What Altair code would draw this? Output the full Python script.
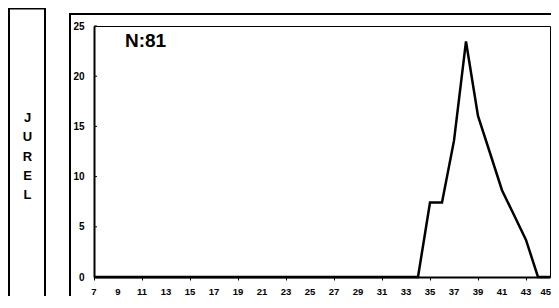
import altair as alt
import pandas as pd

# Data
sizes = list(range(7, 46))
pct_nonzero = {35: 7.41, 36: 7.41, 37: 13.58, 38: 23.46, 39: 16.05,
               40: 12.35, 41: 8.64, 42: 6.17, 43: 3.70}
pct = [pct_nonzero.get(s, 0.0) for s in sizes]
y_ticks = [0, 5, 10, 15, 20, 25]
x_labels = list(range(7, 44, 2))
last_label = [45]
species = "J\nU\nR\nE\nL"
n_label = "N:81"

FONT = "Liberation Sans"
W, H = 456, 251

df = pd.DataFrame({"talla": sizes, "pct": pct})
xs = alt.Scale(domain=[7, 45], nice=False, zero=False)
ys = alt.Scale(domain=[0, 25], nice=False)

line = alt.Chart(df).mark_line(color="black", strokeWidth=2.5).encode(
    x=alt.X("talla:Q", scale=xs,
            axis=alt.Axis(values=sizes, title=None, labels=False)),
    y=alt.Y("pct:Q", scale=ys, axis=alt.Axis(values=y_ticks, title=None)),
)

xl_df = pd.DataFrame({"talla": x_labels})
x_txt = alt.Chart(xl_df).mark_text(
    font=FONT, fontSize=9.5, fontWeight="bold", color="black",
    align="center", baseline="middle"
).encode(x=alt.X("talla:Q", scale=xs), y=alt.value(H + 15),
         text=alt.Text("talla:Q"))

# last x label kept inside the page
last_df = pd.DataFrame({"talla": last_label})
last_txt = alt.Chart(last_df).mark_text(
    font=FONT, fontSize=9.5, fontWeight="bold", color="black",
    align="right", baseline="middle", dx=1
).encode(x=alt.X("talla:Q", scale=xs), y=alt.value(H + 15),
         text=alt.Text("talla:Q"))

tick_df = pd.DataFrame({"v": y_ticks})
yticks = alt.Chart(tick_df).mark_rule(color="black", strokeWidth=1).encode(
    y=alt.Y("v:Q", scale=ys),
    x=alt.value(0), x2=alt.value(3),
)

one = pd.DataFrame({"a": [0]})
left_box = alt.Chart(one).mark_rect(fill=None, stroke="black", strokeWidth=2).encode(
    x=alt.value(-85), x2=alt.value(-49), y=alt.value(-17.5), y2=alt.value(320)
)
outer_box = alt.Chart(one).mark_rect(fill=None, stroke="black", strokeWidth=2).encode(
    x=alt.value(-24), x2=alt.value(470), y=alt.value(-12), y2=alt.value(320)
)
jurel = alt.Chart(one).mark_text(
    text=species, lineBreak="\n", lineHeight=19.3, font=FONT, fontSize=13,
    fontWeight="bold", color="black", align="center", baseline="middle"
).encode(x=alt.value(-66.5), y=alt.value(92))
ntext = alt.Chart(one).mark_text(
    text=n_label, font=FONT, fontSize=19, fontWeight="bold", color="black",
    align="left", baseline="middle"
).encode(x=alt.value(31), y=alt.value(14.5))

chart = alt.layer(outer_box, left_box, line, yticks, x_txt, last_txt, jurel, ntext).properties(
    width=W, height=H,
    autosize=alt.AutoSizeParams(type="none"),
    padding={"left": 86, "top": 18, "right": 1, "bottom": 19},
    background="white",
).configure_view(
    stroke="black", strokeWidth=1
).configure_axis(
    grid=False, domainColor="black", domainWidth=2, labelColor="black",
    labelFont=FONT, labelFontWeight="bold", labelOverlap=False, labelFlush=False,
    title=None,
).configure_axisX(
    tickSize=3, tickColor="black", tickWidth=1,
).configure_axisY(
    ticks=False, labelPadding=10, labelFontSize=10,
)

chart.save("out.html", embed_options={"renderer": "svg", "actions": False})
